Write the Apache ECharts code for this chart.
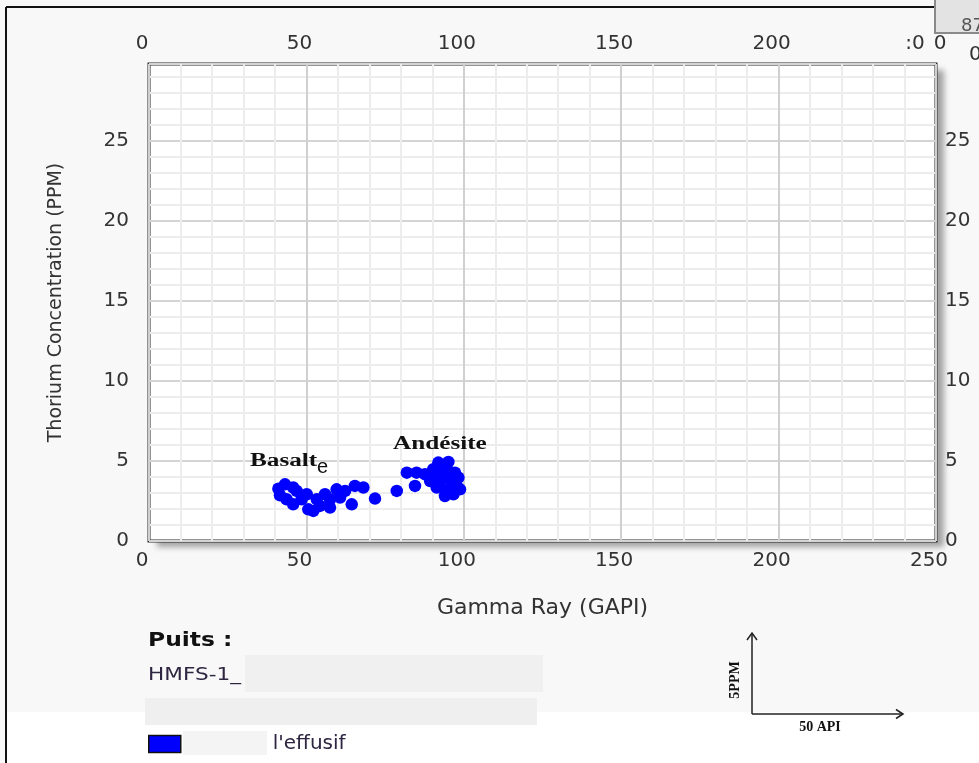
<!DOCTYPE html>
<html>
<head>
<meta charset="utf-8">
<script src="https://cdn.jsdelivr.net/npm/echarts@6/dist/echarts.min.js"></script>
<style>
  html, body { margin: 0; padding: 0; background: #f8f8f8; }
  #chart { width: 979px; height: 763px; }
</style>
</head>
<body>
<div id="chart"></div>
<script>
// Gamma ray (GAPI) and thorium (PPM) readings for the effusive interval of well HMFS-1
const gammaRay = [
  41.1, 43.2, 45.8, 41.6, 43.7, 45.8, 50.6, 52.2, 48.5, 53.3, 55.9, 57.5, 57.5, 59.6, 62.3, 60.7,
  64.4, 65.4, 68.1, 71.8, 78.7, 50.1, 46.9, 54.3,
  81.9, 85.0, 84.5, 87.7, 90.3, 91.9, 95.1, 93.5, 97.2, 89.3, 92.4, 95.6, 97.7, 98.3, 94.6, 96.7,
  94.0, 91.4, 98.8, 90.9, 94.6, 96.1
];
const thorium = [
  3.27, 3.54, 3.34, 2.86, 2.61, 2.29, 1.98, 1.88, 2.61, 2.61, 2.92, 2.09, 2.61, 3.23, 3.13, 2.71,
  2.29, 3.44, 3.34, 2.65, 3.13, 2.92, 3.13, 2.19,
  4.27, 4.27, 3.44, 4.17, 4.48, 4.90, 4.94, 4.27, 4.27, 3.75, 3.65, 3.86, 3.44, 3.96, 3.13, 2.92,
  2.81, 3.34, 3.23, 4.06, 4.48, 3.44
];
const seriesName = "l'effusif";
const xAxisName = 'Gamma Ray (GAPI)';
const yAxisName = 'Thorium Concentration (PPM)';
const grMin = 0, grMax = 250, grStep = 50, grMinorParts = 5;
const thMin = 0, thMax = 29.8, thStep = 5;
const wellTitle = 'Puits :';
const wellName = 'HMFS-1_';

const points = gammaRay.map((g, i) => [g, thorium[i]]);

// plot frame in pixels
const frame = { left: 149, top: 64, right: 936, bottom: 541 };

const labelFont = { fontFamily: 'DejaVu Sans', fontSize: 20, color: '#333' };
const yLineColors = ['#d4d4d4', '#ededed', '#ededed', '#ededed', '#ededed'];
const yFmt = v => (Math.abs(v % thStep) < 1e-9 ? String(v) : '');

const chart = echarts.init(document.getElementById('chart'));
chart.setOption({
  backgroundColor: '#f8f8f8',
  animation: false,
  grid: {
    left: frame.left, top: frame.top, right: 979 - frame.right, bottom: 763 - frame.bottom,
    show: true,
    backgroundColor: '#ffffff',
    borderColor: '#2a2a2a',
    borderWidth: 3
  },
  legend: {
    data: [seriesName],
    left: 148, top: 734,
    padding: 0,
    icon: 'rect',
    itemWidth: 32, itemHeight: 17,
    selectedMode: false,
    itemStyle: { color: '#0000ff', opacity: 1, borderColor: '#111', borderWidth: 1.5 },
    textStyle: { fontFamily: 'DejaVu Sans', fontSize: 20, color: '#2e2540', padding: [1, 0, 0, 87] }
  },
  xAxis: [
    {
      type: 'value', position: 'bottom',
      min: grMin, max: grMax, interval: grStep,
      axisLine: { show: false }, axisTick: { show: false },
      axisLabel: Object.assign({ margin: 10, padding: [0, 14, 0, 0] }, labelFont),
      splitLine: { show: true, lineStyle: { color: '#d0d0d0', width: 2 } },
      minorTick: { show: false, splitNumber: grMinorParts },
      minorSplitLine: { show: true, lineStyle: { color: '#ededed', width: 2 } },
      name: xAxisName, nameLocation: 'middle', nameGap: 56,
      nameTextStyle: { fontFamily: 'DejaVu Sans', fontSize: 22, color: '#333' }
    },
    {
      type: 'value', position: 'top',
      min: grMin, max: grMax, interval: grStep,
      axisLine: { show: false }, axisTick: { show: false },
      axisLabel: Object.assign({
        margin: 10, padding: [0, 14, 0, 0],
        formatter: v => (v === grMax ? '' : String(v))
      }, labelFont),
      splitLine: { show: false }
    }
  ],
  yAxis: [
    {
      type: 'value', position: 'left',
      min: thMin, max: thMax, interval: 1,
      axisLine: { show: false }, axisTick: { show: false },
      axisLabel: Object.assign({ margin: 20, formatter: yFmt }, labelFont),
      splitLine: { show: true, lineStyle: { color: yLineColors, width: 2 } },
      name: yAxisName, nameLocation: 'middle', nameGap: 83,
      nameTextStyle: { fontFamily: 'DejaVu Sans', fontSize: 19, color: '#333' }
    },
    {
      type: 'value', position: 'right',
      min: thMin, max: thMax, interval: 1,
      axisLine: { show: false }, axisTick: { show: false },
      axisLabel: Object.assign({ margin: 9, formatter: yFmt }, labelFont),
      splitLine: { show: false }
    }
  ],
  series: [{
    name: seriesName,
    type: 'scatter',
    xAxisIndex: 0, yAxisIndex: 0,
    symbol: 'circle',
    symbolSize: 12.5,
    itemStyle: { color: '#0000ff', opacity: 1 },
    data: points,
    z: 3
  }],
  graphic: [
    // page frame and lower band
    { type: 'rect', z: -10, shape: { x: 7, y: 712, width: 972, height: 51 }, style: { fill: '#ffffff' } },
    { type: 'line', shape: { x1: 6, y1: 7, x2: 6, y2: 763 }, style: { stroke: '#111', lineWidth: 2 } },
    { type: 'line', shape: { x1: 6, y1: 7, x2: 935, y2: 7 }, style: { stroke: '#111', lineWidth: 2 } },
    // drop shadow behind the plot frame
    {
      type: 'rect', z: -5,
      shape: { x: frame.left, y: frame.top, width: frame.right - frame.left, height: frame.bottom - frame.top },
      style: { fill: '#ffffff', shadowColor: 'rgba(0,0,0,0.35)', shadowBlur: 6, shadowOffsetX: 8, shadowOffsetY: 6 }
    },
    // neighbouring panel at the top-right corner
    { type: 'rect', shape: { x: 935, y: -3, width: 50, height: 36 }, style: { fill: '#e3e3e3', stroke: '#8a8a8a', lineWidth: 2 } },
    { type: 'text', x: 961, y: 26, style: { text: '87', font: '18px "DejaVu Sans"', fill: '#555', verticalAlign: 'middle', textVerticalAlign: 'middle' } },
    { type: 'text', x: 915, y: 44, style: { text: ':0', font: '20px "DejaVu Sans"', fill: '#333', align: 'center', textAlign: 'center', verticalAlign: 'middle', textVerticalAlign: 'middle' } },
    { type: 'text', x: 940, y: 44, style: { text: '0', font: '20px "DejaVu Sans"', fill: '#333', align: 'center', textAlign: 'center', verticalAlign: 'middle', textVerticalAlign: 'middle' } },
    { type: 'text', x: 969, y: 55, style: { text: '0', font: '20px "DejaVu Sans"', fill: '#333', verticalAlign: 'middle', textVerticalAlign: 'middle' } },
    // masked fields in the well block
    { type: 'rect', shape: { x: 245, y: 655, width: 298, height: 37 }, style: { fill: '#f0f0f0' } },
    { type: 'rect', shape: { x: 145, y: 698, width: 392, height: 27 }, style: { fill: '#efefef' } },
    { type: 'rect', shape: { x: 183, y: 731, width: 84, height: 24 }, style: { fill: '#f4f4f4' } },
    { type: 'text', x: 148, y: 641, scaleX: 1.17, style: { text: wellTitle, font: 'bold 20px "DejaVu Sans"', fill: '#111', verticalAlign: 'middle', textVerticalAlign: 'middle' } },
    { type: 'text', x: 148, y: 675, scaleX: 1.2, style: { text: wellName, font: '18px "DejaVu Sans"', fill: '#2e2540', verticalAlign: 'middle', textVerticalAlign: 'middle' } },
    // lithology labels
    { type: 'text', x: 250, y: 461, scaleX: 1.4, z: 10, style: { text: 'Basalt', font: 'bold 18px "Liberation Serif"', fill: '#111', verticalAlign: 'middle', textVerticalAlign: 'middle' } },
    { type: 'text', x: 317, y: 467, z: 10, style: { text: 'e', font: '20px "Liberation Sans"', fill: '#111', verticalAlign: 'middle', textVerticalAlign: 'middle' } },
    { type: 'text', x: 393, y: 444, scaleX: 1.4, z: 10, style: { text: 'Andésite', font: 'bold 18px "Liberation Serif"', fill: '#111', verticalAlign: 'middle', textVerticalAlign: 'middle' } },
    // scale bar
    { type: 'polyline', shape: { points: [[752, 714], [752, 633]] }, style: { stroke: '#222', lineWidth: 1.5, fill: null } },
    { type: 'polyline', shape: { points: [[747, 640], [752, 633], [757, 640]] }, style: { stroke: '#222', lineWidth: 1.5, fill: null } },
    { type: 'polyline', shape: { points: [[752, 714], [903, 714]] }, style: { stroke: '#222', lineWidth: 1.5, fill: null } },
    { type: 'polyline', shape: { points: [[896, 709.5], [903, 714], [896, 718.5]] }, style: { stroke: '#222', lineWidth: 1.5, fill: null } },
    { type: 'text', x: 735, y: 680, rotation: Math.PI / 2, style: { text: '5PPM', font: 'bold 14px "Liberation Serif"', fill: '#111', align: 'center', textAlign: 'center', verticalAlign: 'middle', textVerticalAlign: 'middle' } },
    { type: 'text', x: 820, y: 727, style: { text: '50 API', font: 'bold 14px "Liberation Serif"', fill: '#111', align: 'center', textAlign: 'center', verticalAlign: 'middle', textVerticalAlign: 'middle' } }
  ]
});
</script>
</body>
</html>
